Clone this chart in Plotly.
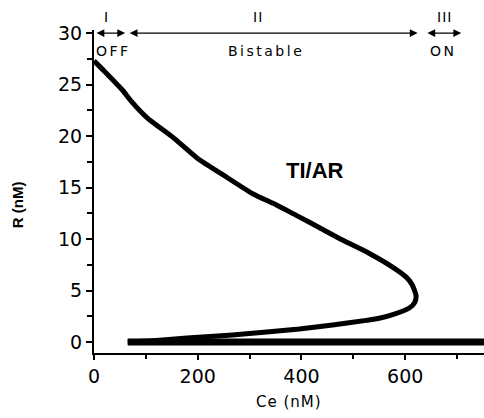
import plotly.graph_objects as go

# S-shaped branch (upper branch -> nose -> lower branch)
ce_curve = [0, 20, 56, 70, 102, 154, 198, 256, 306, 352, 390, 435, 479, 531, 575,
            602, 613, 621, 618, 608, 579, 550, 525, 460, 396, 333, 267, 179, 120, 65]
r_curve = [27.3, 26.3, 24.4, 23.5, 21.8, 19.8, 17.9, 16.0, 14.4, 13.3, 12.3, 11.1, 9.9, 8.6, 7.3,
           6.3, 5.6, 4.5, 3.8, 3.3, 2.7, 2.3, 2.1, 1.65, 1.26, 0.97, 0.68, 0.39, 0.15, 0]
# Bottom (R = 0) branch
ce_flat = [65, 770]
r_flat = [0, 0]

x_ticks = [0, 200, 400, 600]
y_ticks = [0, 5, 10, 15, 20, 25, 30]

# Region arrows (start, end) at R = 30
regions = [(2, 60, "I", "OFF"), (66, 624, "II", "Bistable"), (640, 708, "III", "ON")]

BLACK = "#000000"
TICKFONT = dict(family="DejaVu Sans", size=19, color=BLACK)

fig = go.Figure()
fig.add_trace(go.Scatter(x=ce_curve, y=r_curve, mode="lines",
                         line=dict(color=BLACK, width=5, shape="spline", smoothing=0.6),
                         showlegend=False, hoverinfo="skip"))
fig.add_trace(go.Scatter(x=ce_flat, y=r_flat, mode="lines",
                         line=dict(color=BLACK, width=7),
                         showlegend=False, hoverinfo="skip"))

X0 = 752.0  # x-axis span
annotations = []
label_x = [25, 316, 675]
sub_x = [38, 332, 674]
for (a, b, roman, name), lx, sx in zip(regions, label_x, sub_x):
    annotations.append(dict(x=b, y=30, ax=a, ay=30, xref="x", yref="y", axref="x", ayref="y",
                            text="", showarrow=True, arrowhead=2, arrowside="end+start",
                            arrowsize=1.2, arrowwidth=1.3, arrowcolor=BLACK,
                            standoff=0, startstandoff=0))
    annotations.append(dict(x=lx / X0, y=1.04, xref="paper", yref="paper",
                            text='<span style="letter-spacing:1px">%s</span>' % roman,
                            showarrow=False, xanchor="center", yanchor="middle",
                            font=dict(family="DejaVu Sans", size=14, color=BLACK)))
    annotations.append(dict(x=sx, y=28.3, xref="x", yref="y",
                            text='<span style="letter-spacing:2.5px">%s</span>' % name,
                            showarrow=False, xanchor="center",
                            font=dict(family="DejaVu Sans", size=14, color=BLACK)))

annotations.append(dict(x=427, y=16.7, xref="x", yref="y", text="<b>TI/AR</b>", showarrow=False,
                        xanchor="center",
                        font=dict(family="Liberation Sans", size=22, color=BLACK)))
annotations.append(dict(x=0.5, y=-0.152, xref="paper", yref="paper",
                        text='<span style="letter-spacing:1px">Ce (nM)</span>',
                        showarrow=False, xanchor="center", yanchor="middle",
                        font=dict(family="DejaVu Sans", size=15, color=BLACK)))
annotations.append(dict(x=-0.197, y=0.458, xref="paper", yref="paper", text="<b>R (nM)</b>",
                        showarrow=False, textangle=-90, xanchor="center", yanchor="middle",
                        font=dict(family="Liberation Sans", size=15, color=BLACK)))

fig.update_layout(
    width=484, height=418,
    margin=dict(l=94, r=0, t=30, b=65),
    plot_bgcolor="white", paper_bgcolor="white",
    annotations=annotations,
    xaxis=dict(range=[0, X0], tickvals=x_ticks, showgrid=False, zeroline=False,
               showline=True, linecolor=BLACK, linewidth=2, ticks="outside",
               ticklen=5, tickwidth=1.5, tickcolor=BLACK, tickfont=TICKFONT,
               minor=dict(dtick=100, tick0=0, ticks="outside", ticklen=4, tickwidth=1.5,
                          tickcolor=BLACK, showgrid=False)),
    yaxis=dict(range=[-1.07, 30.3], tickvals=y_ticks, showgrid=False, zeroline=False,
               showline=True, linecolor=BLACK, linewidth=2, ticks="outside",
               ticklen=6, tickwidth=1.5, tickcolor=BLACK, tickfont=TICKFONT,
               minor=dict(dtick=2.5, tick0=0, ticks="outside", ticklen=5, tickwidth=1.5,
                          tickcolor=BLACK, showgrid=False)),
)

fig.write_html("out.html", config={"displayModeBar": False},
               post_script="document.body.style.margin='0';document.body.style.overflow='hidden';")
